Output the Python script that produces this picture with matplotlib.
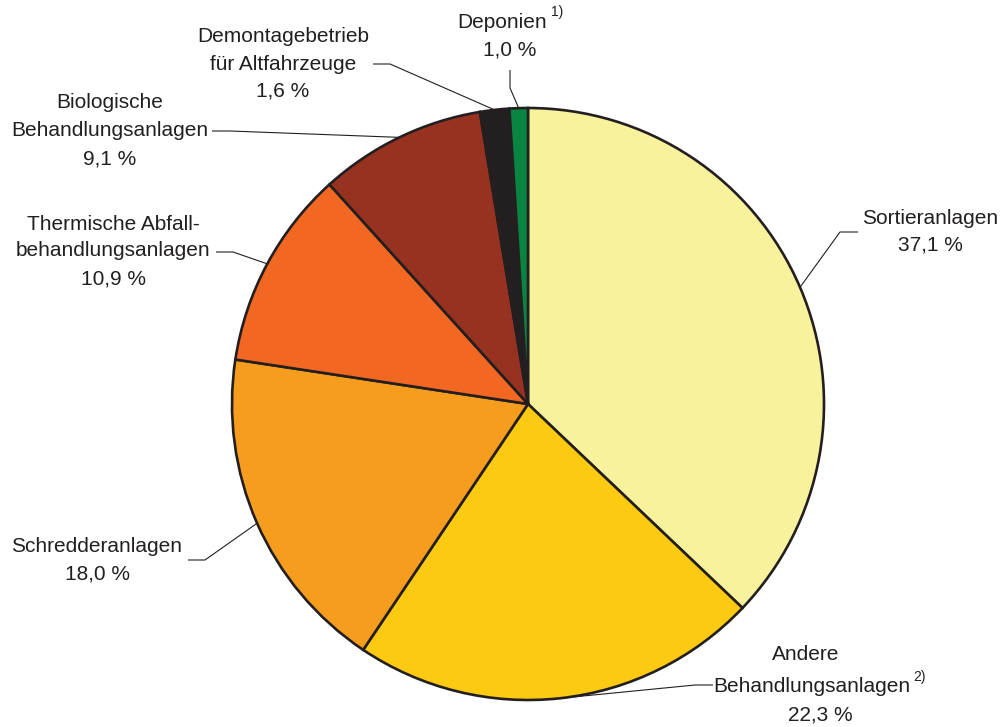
import matplotlib.pyplot as plt
import numpy as np

plt.rcParams['font.family'] = ['Liberation Sans', 'DejaVu Sans']

# Anteile der Anlagenarten (Prozent), im Uhrzeigersinn ab 12 Uhr
labels = ['Sortieranlagen', 'Andere\nBehandlungsanlagen', 'Schredderanlagen',
          'Thermische Abfall-\nbehandlungsanlagen', 'Biologische\nBehandlungsanlagen',
          'Demontagebetrieb\nfür Altfahrzeuge', 'Deponien']
anteile = [37.1, 22.3, 18.0, 10.9, 9.1, 1.6, 1.0]
farben = ['#F8F29C', '#FDCA12', '#F79D1E', '#F26822', '#983220', '#231F20', '#0A8541']
fussnoten = ['', '2)', '', '', '', '', '1)']

TXT = '#231F20'
W, H = 1005, 727
cx, cy, r = 528, 404, 296

fig = plt.figure(figsize=(W / 100, H / 100), dpi=100)
ax = fig.add_axes([0, 0, 1, 1])

wedges, _ = ax.pie(anteile, colors=farben, startangle=90, counterclock=False,
                   center=(cx, H - cy), radius=r,
                   wedgeprops=dict(edgecolor=TXT, linewidth=1.9))
ax.set_xlim(0, W)
ax.set_ylim(0, H)
ax.set_aspect('equal')
ax.axis('off')

# Zeilen je Beschriftung: (x-Mitte, y) in Pixeln von oben
zeilen_pos = [
    [(930, 218), (930, 245)],
    [(806, 654), (812, 687), (820, 715)],
    [(97, 547), (97, 574)],
    [(113, 224), (113, 251), (113, 279)],
    [(110, 103), (110, 131), (110, 159)],
    [(283, 37), (283, 64), (283, 91)],
    [(502, 22), (510, 50)],
]
# Knickpunkt und Ende der Hinweislinie
knick = [(840, 232), (695, 685), (205, 560), (233, 252), (230, 131), (390, 64), (510, 88)]
ende = [(858, 232), (713, 685), (188, 560), (216, 252), (212, 131), (373, 64), (510, 70)]
hoch = [None, (919, 677), None, None, None, None, (557, 12)]

for i, w in enumerate(wedges):
    mitte = np.deg2rad((w.theta1 + w.theta2) / 2)
    ex = cx + r * np.cos(mitte)
    ey = H - cy + r * np.sin(mitte)
    kx, ky = knick[i]
    tx, ty = ende[i]
    ax.plot([ex, kx, tx], [ey, H - ky, H - ty], color=TXT, lw=0.8, solid_capstyle='butt')
    wert = f'{anteile[i]:.1f} %'.replace('.', ',')
    zeilen = labels[i].split('\n') + [wert]
    for z, (px, py) in zip(zeilen, zeilen_pos[i]):
        ax.text(px, H - py, z, ha='center', va='center', fontsize=15, color=TXT)
    if fussnoten[i]:
        hx, hy = hoch[i]
        ax.text(hx, H - hy, fussnoten[i], ha='center', va='center', fontsize=10, color=TXT)

fig.savefig('out.png', dpi=100)
